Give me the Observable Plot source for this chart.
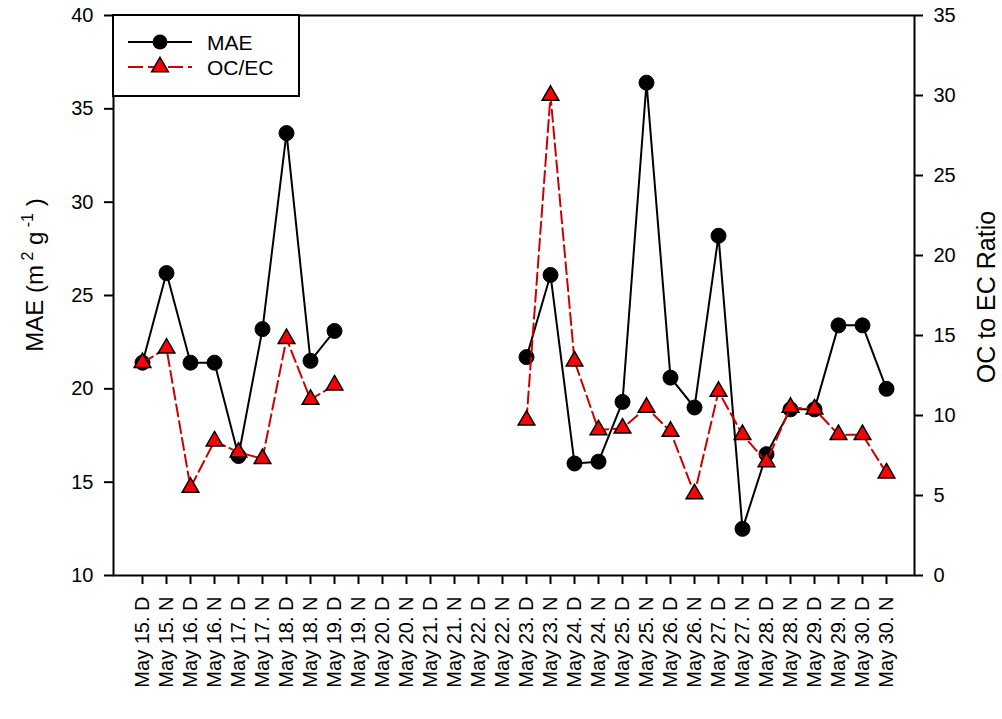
<!DOCTYPE html>
<html>
<head>
<meta charset="utf-8">
<script src="https://cdn.jsdelivr.net/npm/d3@7"></script>
<script src="https://cdn.jsdelivr.net/npm/@observablehq/plot@0.6"></script>
<style>
  body { margin: 0; background: white; }
  #wrap { position: relative; width: 1002px; height: 719px; font-family: "Liberation Sans", Arial, sans-serif; }
  #overlay { position: absolute; left: 0; top: 0; pointer-events: none; }
</style>
</head>
<body>
<div id="wrap"></div>
<script>
// ---- data ----
const days = [15,16,17,18,19,20,21,22,23,24,25,26,27,28,29,30];
const periods = ["D", "N"];
const categories = days.flatMap(d => periods.map(p => `May ${d}. ${p}`));
const mae = [21.4, 26.2, 21.4, 21.4, 16.4, 23.2, 33.7, 21.5, 23.1,
             null, null, null, null, null, null, null,
             21.7, 26.1, 16.0, 16.1, 19.3, 36.4, 20.6, 19.0,
             28.2, 12.5, 16.5, 18.9, 18.9, 23.4, 23.4, 20.0];
const ocec = [13.3, 14.2, 5.5, 8.4, 7.7, 7.3, 14.8, 11.0, 11.9,
              null, null, null, null, null, null, null,
              9.7, 30.0, 13.4, 9.1, 9.2, 10.5, 9.0, 5.1,
              11.5, 8.8, 7.1, 10.5, 10.4, 8.8, 8.8, 6.4];
const leftTicks = [10, 15, 20, 25, 30, 35, 40];
const rightTicks = [0, 5, 10, 15, 20, 25, 30, 35];
const leftDomain = [10, 40];
const rightDomain = [0, 35];

// map right-axis values onto the left-axis scale
const toLeft = v => v == null ? null :
  leftDomain[0] + (v - rightDomain[0]) * (leftDomain[1] - leftDomain[0]) / (rightDomain[1] - rightDomain[0]);
const fromLeft = v => rightDomain[0] + (v - leftDomain[0]) * (rightDomain[1] - rightDomain[0]) / (leftDomain[1] - leftDomain[0]);

const data = categories.map((c, i) => ({c, mae: mae[i], oc: toLeft(ocec[i])}));

const chart = Plot.plot({
  width: 1002,
  height: 719,
  marginLeft: 113,
  marginRight: 88,
  marginTop: 15,
  marginBottom: 144,
  style: {fontFamily: '"Liberation Sans", Arial, sans-serif', fontSize: "20px", color: "black", background: "white", overflow: "visible"},
  x: {type: "point", domain: categories, padding: 1},
  y: {domain: leftDomain},
  marks: [
    Plot.axisX({tickRotate: -90, tickSize: 9, tickPadding: 12, label: null, strokeWidth: 2, fontSize: 20}),
    Plot.axisY({ticks: leftTicks, tickSize: 9, tickPadding: 11, label: null, strokeWidth: 2, fontSize: 20}),
    Plot.axisY({anchor: "right", ticks: rightTicks.map(toLeft), tickFormat: d => String(Math.round(fromLeft(d))),
                tickSize: 8, tickPadding: 11, label: null, strokeWidth: 2, fontSize: 20}),
    Plot.frame({stroke: "black", strokeWidth: 2}),
    Plot.lineY(data, {x: "c", y: "mae", stroke: "black", strokeWidth: 2}),
    Plot.dot(data, {x: "c", y: "mae", r: 7.5, fill: "black", stroke: "black", strokeWidth: 1}),
    Plot.lineY(data, {x: "c", y: "oc", stroke: "#cc0000", strokeWidth: 2, strokeDasharray: "12,5"}),
    Plot.dot(data, {x: "c", y: "oc", symbol: "triangle", r: 6.2, fill: "#ff0000", stroke: "black", strokeWidth: 1.5})
  ]
});
const wrap = document.getElementById("wrap");
wrap.appendChild(chart);

// ---- titles and legend overlay ----
const tri = d3.symbol(d3.symbolTriangle, Math.PI * 6.2 * 6.2)();
const ns = "http://www.w3.org/2000/svg";
const ov = document.createElementNS(ns, "svg");
ov.setAttribute("id", "overlay");
ov.setAttribute("width", 1002);
ov.setAttribute("height", 719);
ov.setAttribute("font-family", '"Liberation Sans", Arial, sans-serif');
ov.innerHTML = `
  <text transform="translate(43,275) rotate(-90)" text-anchor="middle" font-size="24" fill="black">MAE (m<tspan dy="-10" font-size="16"> 2</tspan><tspan dy="10"> g</tspan><tspan dy="-10" font-size="16"> -1</tspan><tspan dy="10"> )</tspan></text>
  <text transform="translate(995,297) rotate(-90)" text-anchor="middle" font-size="25" fill="black">OC to EC Ratio</text>
  <rect x="113" y="15" width="186" height="81" fill="white" stroke="black" stroke-width="2"></rect>
  <line x1="128" x2="192" y1="42" y2="42" stroke="black" stroke-width="2"></line>
  <circle cx="160" cy="42" r="7.5" fill="black"></circle>
  <text x="207" y="42" dy="0.36em" font-size="21" fill="black">MAE</text>
  <line x1="128" x2="192" y1="67" y2="67" stroke="#cc0000" stroke-width="2" stroke-dasharray="15,5"></line>
  <path transform="translate(160,67)" d="${tri}" fill="#ff0000" stroke="black" stroke-width="1.5"></path>
  <text x="207" y="67" dy="0.36em" font-size="21" fill="black">OC/EC</text>
`;
wrap.appendChild(ov);
</script>
</body>
</html>
